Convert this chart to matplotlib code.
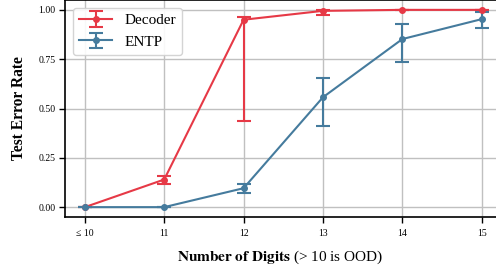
import numpy as np
import matplotlib.pyplot as plt

plt.rcParams["font.family"] = ["Liberation Serif", "DejaVu Serif"]
plt.rcParams["mathtext.fontset"] = "stix"

DECODER_COLOR = "#E63946"
ENTP_COLOR = "#457B9D"

digits = ["≤ 10", "11", "12", "13", "14", "15"]

decoder_mean = [0.0, 0.14, 0.95, 0.995, 1.0, 1.0]
decoder_low = [0.0, 0.115, 0.435, 0.972, 1.0, 1.0]
decoder_high = [0.0, 0.16, 0.965, 1.0, 1.0, 1.0]

entp_mean = [0.0, 0.0, 0.096, 0.557, 0.852, 0.953]
entp_low = [0.0, 0.0, 0.071, 0.411, 0.736, 0.909]
entp_high = [0.0, 0.0, 0.117, 0.655, 0.928, 0.987]


def yerr(mean, low, high):
    mean = np.array(mean)
    return [mean - np.array(low), np.array(high) - mean]


fig = plt.figure(figsize=(4.96, 2.66), dpi=100)
ax = fig.add_axes([65 / 496, 1 - 217 / 266, 1 - 65 / 496, 217 / 266])

x = np.arange(len(digits))

for mean, low, high, color, label in [
    (decoder_mean, decoder_low, decoder_high, DECODER_COLOR, "Decoder"),
    (entp_mean, entp_low, entp_high, ENTP_COLOR, "ENTP"),
]:
    ax.errorbar(
        x,
        mean,
        yerr=yerr(mean, low, high),
        color=color,
        marker="o",
        markersize=4,
        linewidth=1.5,
        elinewidth=1.5,
        capsize=5,
        capthick=1.5,
        label=label,
        zorder=3,
    )

ax.set_xlim(-0.25, 5.18)
ax.set_ylim(-0.05, 1.05)
ax.set_xticks(x)
ax.set_xticklabels(digits)
ax.set_yticks([0.0, 0.25, 0.5, 0.75, 1.0])
ax.set_yticklabels(["0.00", "0.25", "0.50", "0.75", "1.00"])
ax.tick_params(labelsize=7, length=4, width=1, direction="out")
ax.tick_params(axis="x", pad=5)
ax.tick_params(axis="y", pad=3)

ax.grid(True, color="#c0c0c0", linewidth=1.0, zorder=0)
ax.set_axisbelow(True)

for side in ["left", "bottom", "top"]:
    ax.spines[side].set_linewidth(1.2)
    ax.spines[side].set_color("black")
ax.spines["right"].set_visible(False)

ax.set_ylabel("Test Error Rate", fontsize=11.2, fontweight="bold", labelpad=8)
ax.set_xlabel(r"$\mathbf{Number\ of\ Digits}$ (> 10 is OOD)", fontsize=11, labelpad=7)

ax.legend(loc="upper left", fontsize=11, framealpha=0.9, edgecolor="#d0d0d0",
          handlelength=2.2, borderpad=0.4, labelspacing=0.5)

fig.savefig("out.png", dpi=100)
